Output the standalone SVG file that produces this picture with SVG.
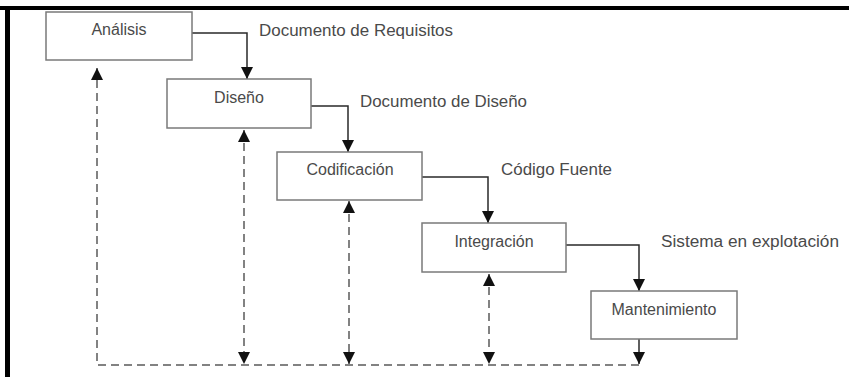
<svg xmlns="http://www.w3.org/2000/svg" width="849" height="377" viewBox="0 0 849 377">
<style>
.box{fill:#fff;stroke:#7a7a7a;stroke-width:1.5}
.t{font-family:"Liberation Sans",Arial,sans-serif;font-size:16px;fill:#4a4a4a}
.c{text-anchor:middle}
.solid{fill:none;stroke:#2a2a2a;stroke-width:1.5}
.dash{fill:none;stroke:#5a5a5a;stroke-width:1.5;stroke-dasharray:8 5}
</style>
<defs>
<marker id="ah" viewBox="0 0 12 12" refX="12" refY="6" markerWidth="12" markerHeight="12" markerUnits="userSpaceOnUse" orient="auto-start-reverse">
<path d="M0,0 L12,6 L0,12 z" fill="#111"/>
</marker>
</defs>
<rect x="0" y="6" width="849" height="4" fill="#000"/>
<rect x="5" y="6" width="5" height="371" fill="#000"/>
<g id="connectors">
<path class="solid" d="M192,33 H247 V79" marker-end="url(#ah)"/>
<path class="solid" d="M311,106 H348 V152" marker-end="url(#ah)"/>
<path class="solid" d="M422,177 H488 V223" marker-end="url(#ah)"/>
<path class="solid" d="M566,245 H639 V291" marker-end="url(#ah)"/>
<path class="solid" d="M639,339 V364" marker-end="url(#ah)"/>
<path class="dash" d="M639,365 H97 V68" marker-end="url(#ah)"/>
<path class="dash" d="M244,130 V364" marker-start="url(#ah)" marker-end="url(#ah)"/>
<path class="dash" d="M349,201 V364" marker-start="url(#ah)" marker-end="url(#ah)"/>
<path class="dash" d="M489,274 V364" marker-start="url(#ah)" marker-end="url(#ah)"/>
<text class="t" x="259" y="36" textLength="194" lengthAdjust="spacingAndGlyphs">Documento de Requisitos</text>
<text class="t" x="360" y="107" textLength="167" lengthAdjust="spacingAndGlyphs">Documento de Diseño</text>
<text class="t" x="501" y="175" textLength="111" lengthAdjust="spacingAndGlyphs">Código Fuente</text>
<text class="t" x="661" y="247" textLength="178" lengthAdjust="spacingAndGlyphs">Sistema en explotación</text>
</g>
<g id="analisis">
<rect class="box" x="46" y="12" width="146" height="48"/>
<text class="t c" x="119" y="35">Análisis</text>
</g>
<g id="diseno">
<rect class="box" x="167" y="79" width="144" height="49"/>
<text class="t c" x="239" y="103">Diseño</text>
</g>
<g id="codificacion">
<rect class="box" x="277" y="152" width="145" height="48"/>
<text class="t c" x="350" y="175">Codificación</text>
</g>
<g id="integracion">
<rect class="box" x="422" y="223" width="144" height="49"/>
<text class="t c" x="494" y="247">Integración</text>
</g>
<g id="mantenimiento">
<rect class="box" x="591" y="291" width="146" height="48"/>
<text class="t c" x="664" y="315">Mantenimiento</text>
</g>
</svg>
